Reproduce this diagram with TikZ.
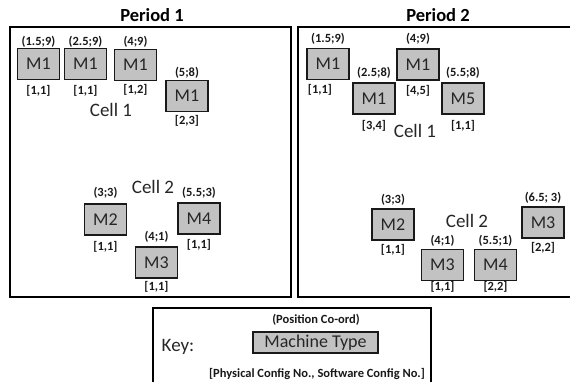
\documentclass[tikz,border=0pt]{standalone}
\usepackage{fontspec}
\setmainfont{Carlito}
\begin{document}
\begin{tikzpicture}[x=1pt,y=-1pt,
  mach/.style={draw=black!90,line width=1.8pt,fill=black!24,minimum width=42pt,minimum height=31pt,inner sep=0pt,font=\fontsize{18}{18}\selectfont,text=black!85},
  coord/.style={font=\fontsize{12.5}{12.5}\selectfont\bfseries,text=black!90,inner sep=0pt},
  cell/.style={font=\fontsize{19}{19}\selectfont,text=black!85,inner sep=0pt},
  title/.style={font=\fontsize{18.5}{18.5}\selectfont\bfseries,inner sep=0pt},
  frame/.style={draw=black,line width=1.8pt}]
\useasboundingbox (0,0) rectangle (570,382);
% titles
\node[title] (t1) at (152,15) {Period 1};
\node[title] (t2) at (438,15) {Period 2};
% frames
\draw[frame] (10,27) rectangle (291,297);
\draw[frame] (298,27) rectangle (575,297);
\draw[frame] (153,308) rectangle (431,390);
% Period 1, cell 1
\node[mach] (a1) at (38.5,64) {M1};
\node[coord] at (38.5,42) {(1.5;9)};
\node[coord] at (38.5,91) {[1,1]};
\node[mach] (a2) at (85.5,64) {M1};
\node[coord] at (85.5,42) {(2.5;9)};
\node[coord] at (85.5,91) {[1,1]};
\node[mach] (a3) at (135.5,65) {M1};
\node[coord] at (135.5,42) {(4;9)};
\node[coord] at (135.5,90) {[1,2]};
\node[mach] (a4) at (187,96) {M1};
\node[coord] at (187,73) {(5;8)};
\node[coord] at (187,121) {[2,3]};
\node[cell] (c11) at (111,110) {Cell 1};
% Period 1, cell 2
\node[mach] (a5) at (105.5,219.5) {M2};
\node[coord] at (105.5,193) {(3;3)};
\node[coord] at (105.5,247) {[1,1]};
\node[mach] (a6) at (199,218.5) {M4};
\node[coord] at (199,193) {(5.5;3)};
\node[coord] at (199,245) {[1,1]};
\node[mach] (a7) at (156.5,262.5) {M3};
\node[coord] at (156.5,237) {(4;1)};
\node[coord] at (156.5,287) {[1,1]};
\node[cell] (c12) at (153,187) {Cell 2};
% Period 2, cell 1
\node[mach] (b1) at (328,64) {M1};
\node[coord] at (328,39) {(1.5;9)};
\node[coord] at (320,90) {[1,1]};
\node[mach] (b2) at (374,98.5) {M1};
\node[coord] at (374,73) {(2.5;8)};
\node[coord] at (374,126) {[3,4]};
\node[mach] (b3) at (418,64.5) {M1};
\node[coord] at (418,39) {(4;9)};
\node[coord] at (418,91) {[4,5]};
\node[mach] (b4) at (463,98.5) {M5};
\node[coord] at (463,73) {(5.5;8)};
\node[coord] at (463,126) {[1,1]};
\node[cell] (c21) at (415,131) {Cell 1};
% Period 2, cell 2
\node[mach] (b5) at (393,224.5) {M2};
\node[coord] at (393,200) {(3;3)};
\node[coord] at (393,250) {[1,1]};
\node[mach] (b6) at (442.5,265) {M3};
\node[coord] at (442.5,241) {(4;1)};
\node[coord] at (442.5,287) {[1,1]};
\node[mach] (b7) at (495.5,265) {M4};
\node[coord] at (495.5,241) {(5.5;1)};
\node[coord] at (495.5,287) {[2,2]};
\node[mach] (b8) at (543,222.5) {M3};
\node[coord] at (543,198) {(6.5; 3)};
\node[coord] at (543,248) {[2,2]};
\node[cell] (c22) at (467,221) {Cell 2};
% key
\node[cell] (key) at (178,347) {Key:};
\node[mach,minimum width=125pt,minimum height=21pt] (mt) at (315.5,342.5) {Machine Type};
\node[coord] at (316,320) {(Position Co-ord)};
\node[coord] at (317,374) {[Physical Config No., Software Config No.]};
\end{tikzpicture}
\end{document}
